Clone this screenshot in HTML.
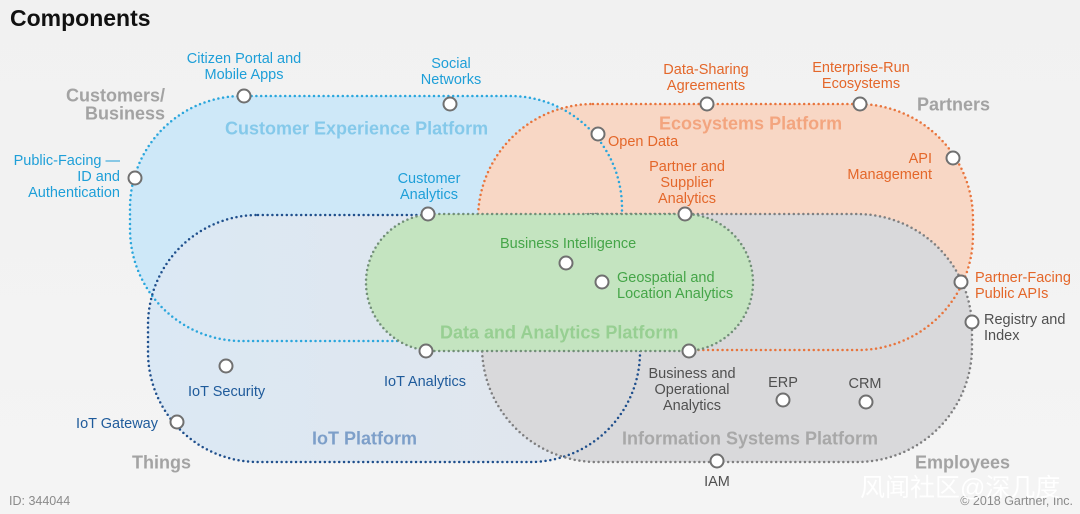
<!DOCTYPE html>
<html>
<head>
<meta charset="utf-8">
<style>
html,body{margin:0;padding:0;background:#f2f2f2;}
svg{display:block;font-family:"Liberation Sans","Noto Sans CJK SC",sans-serif;}
</style>
</head>
<body>
<svg width="1080" height="514" viewBox="0 0 1080 514" xmlns="http://www.w3.org/2000/svg">
<defs>
<linearGradient id="bg" x1="0" y1="0" x2="0" y2="1">
<stop offset="0" stop-color="#f1f1f1"/>
<stop offset="1" stop-color="#f4f4f4"/>
</linearGradient>
<linearGradient id="iot" x1="0" y1="0" x2="1" y2="0">
<stop offset="0" stop-color="#dbe8f4"/>
<stop offset="1" stop-color="#e2e6ec"/>
</linearGradient>
</defs>
<rect width="1080" height="514" fill="url(#bg)"/>

<!-- fills -->
<rect x="130" y="96" width="492" height="245" rx="112" fill="#cee8f8"/>
<rect x="478" y="104" width="495" height="246" rx="115" fill="#f8d7c5"/>
<rect x="148" y="215" width="492" height="247" rx="110" fill="url(#iot)"/>
<rect x="482" y="214" width="490" height="248" rx="115" fill="#d9d9db"/>

<!-- strokes -->
<g fill="none" stroke-linecap="round" stroke-width="2.5" stroke-dasharray="0 4.8">
<rect x="130" y="96" width="492" height="245" rx="112" stroke="#2aa6dc"/>
<rect x="478" y="104" width="495" height="246" rx="115" stroke="#e8743c"/>
<rect x="148" y="215" width="492" height="247" rx="110" stroke="#1f4f8c"/>
<rect x="482" y="214" width="490" height="248" rx="115" stroke="#7f7f80"/>
</g>

<!-- green on top -->
<rect x="366" y="214" width="387" height="137" rx="68.5" fill="#c4e4c0"/>
<rect x="366" y="214" width="387" height="137" rx="68.5" fill="none" stroke="#728f78" stroke-linecap="round" stroke-width="2.5" stroke-dasharray="0 4.8"/>

<!-- circles -->
<g fill="#ffffff" stroke="#707070" stroke-width="2">
<circle cx="244" cy="96" r="6.5"/>
<circle cx="450" cy="104" r="6.5"/>
<circle cx="135" cy="178" r="6.5"/>
<circle cx="428" cy="214" r="6.5"/>
<circle cx="707" cy="104" r="6.5"/>
<circle cx="860" cy="104" r="6.5"/>
<circle cx="598" cy="134" r="6.5"/>
<circle cx="685" cy="214" r="6.5"/>
<circle cx="953" cy="158" r="6.5"/>
<circle cx="961" cy="282" r="6.5"/>
<circle cx="566" cy="263" r="6.5"/>
<circle cx="602" cy="282" r="6.5"/>
<circle cx="226" cy="366" r="6.5"/>
<circle cx="426" cy="351" r="6.5"/>
<circle cx="177" cy="422" r="6.5"/>
<circle cx="689" cy="351" r="6.5"/>
<circle cx="783" cy="400" r="6.5"/>
<circle cx="866" cy="402" r="6.5"/>
<circle cx="972" cy="322" r="6.5"/>
<circle cx="717" cy="461" r="6.5"/>
</g>

<!-- title -->
<text x="10" y="26" font-size="23" font-weight="bold" fill="#111">Components</text>

<!-- group labels -->
<g font-size="18" font-weight="bold" fill="#a3a3a3">
<text x="165" y="101.5" text-anchor="end">Customers/</text>
<text x="165" y="119.5" text-anchor="end">Business</text>
<text x="917" y="110.5">Partners</text>
<text x="132" y="468.5">Things</text>
<text x="915" y="468.5">Employees</text>
</g>

<!-- platform titles -->
<g font-size="18" font-weight="bold">
<text x="225" y="134.5" fill="#85c9ea">Customer Experience Platform</text>
<text x="659" y="129.5" fill="#f3a57f">Ecosystems Platform</text>
<text x="440" y="338.5" fill="#97cf92">Data and Analytics Platform</text>
<text x="312" y="444.5" fill="#7d9fc9">IoT Platform</text>
<text x="622" y="444.5" fill="#a8a8a8">Information Systems Platform</text>
</g>

<!-- blue labels -->
<g font-size="14.5" fill="#1e9fd8">
<text x="244" y="63" text-anchor="middle">Citizen Portal and</text>
<text x="244" y="79" text-anchor="middle">Mobile Apps</text>
<text x="451" y="68" text-anchor="middle">Social</text>
<text x="451" y="84" text-anchor="middle">Networks</text>
<text x="120" y="165" text-anchor="end">Public-Facing —</text>
<text x="120" y="181" text-anchor="end">ID and</text>
<text x="120" y="197" text-anchor="end">Authentication</text>
<text x="429" y="183" text-anchor="middle">Customer</text>
<text x="429" y="199" text-anchor="middle">Analytics</text>
</g>

<!-- orange labels -->
<g font-size="14.5" fill="#e4672a">
<text x="706" y="74" text-anchor="middle">Data-Sharing</text>
<text x="706" y="90" text-anchor="middle">Agreements</text>
<text x="861" y="72" text-anchor="middle">Enterprise-Run</text>
<text x="861" y="88" text-anchor="middle">Ecosystems</text>
<text x="608" y="146">Open Data</text>
<text x="687" y="171" text-anchor="middle">Partner and</text>
<text x="687" y="187" text-anchor="middle">Supplier</text>
<text x="687" y="203" text-anchor="middle">Analytics</text>
<text x="932" y="163" text-anchor="end">API</text>
<text x="932" y="179" text-anchor="end">Management</text>
<text x="975" y="282">Partner-Facing</text>
<text x="975" y="298">Public APIs</text>
</g>

<!-- green labels -->
<g font-size="14.5" fill="#45a548">
<text x="500" y="248">Business Intelligence</text>
<text x="617" y="282">Geospatial and</text>
<text x="617" y="298">Location Analytics</text>
</g>

<!-- navy labels -->
<g font-size="14.5" fill="#1f5b9b">
<text x="188" y="396">IoT Security</text>
<text x="384" y="386">IoT Analytics</text>
<text x="158" y="428" text-anchor="end">IoT Gateway</text>
</g>

<!-- gray labels -->
<g font-size="14.5" fill="#505050">
<text x="692" y="378" text-anchor="middle">Business and</text>
<text x="692" y="394" text-anchor="middle">Operational</text>
<text x="692" y="410" text-anchor="middle">Analytics</text>
<text x="783" y="387" text-anchor="middle">ERP</text>
<text x="865" y="388" text-anchor="middle">CRM</text>
<text x="984" y="324">Registry and</text>
<text x="984" y="340">Index</text>
<text x="717" y="486" text-anchor="middle">IAM</text>
</g>

<!-- footer -->
<g font-size="12.5" fill="#8a8a8a">
<text x="9" y="505">ID: 344044</text>
<text x="1073" y="505" text-anchor="end">© 2018 Gartner, Inc.</text>
</g>

<!-- watermark -->
<text x="860" y="496" font-size="25" fill="#ffffff" fill-opacity="0.92" font-family="'Liberation Sans','Noto Sans CJK SC',sans-serif">风闻社区@深几度</text>
</svg>
</body>
</html>
